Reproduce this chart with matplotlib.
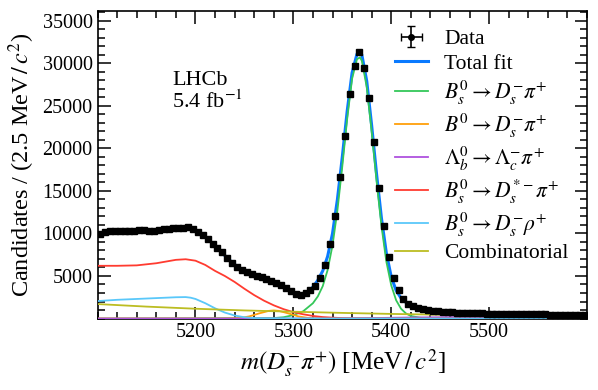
import numpy as np
import matplotlib
matplotlib.use("Agg")
import matplotlib.pyplot as plt
from matplotlib.ticker import MultipleLocator

plt.rcParams['font.family'] = ['Liberation Serif', 'DejaVu Serif']
plt.rcParams['mathtext.fontset'] = 'stix'

# data: 5 MeV bins from 5100 to 5600, candidates per bin
mass_bins = np.arange(5102.5, 5600.0, 5.0)
counts_k = [
    9.95, 10.15, 10.3, 10.35, 10.3, 10.3, 10.25, 10.35, 10.45, 10.4,
    10.3, 10.35, 10.4, 10.55, 10.55, 10.65, 10.7, 10.65, 10.8, 10.5,
    10.2, 9.8, 9.35, 8.8, 8.3, 7.8, 7.15, 6.55, 6.1, 5.75,
    5.45, 5.2, 5.0, 4.85, 4.65, 4.45, 4.2, 3.9, 3.55, 3.2,
    2.9, 2.8, 3.0, 3.35, 3.8, 4.75, 6.3, 8.75, 12.0, 16.6,
    21.45, 26.4, 29.7, 31.3, 29.5, 25.95, 20.75, 15.4, 10.9, 7.2,
    4.75, 3.35, 2.35, 1.75, 1.45, 1.25, 1.1, 1.0, 0.92, 0.86,
    0.8, 0.76, 0.73, 0.7, 0.68, 0.66, 0.63, 0.62, 0.6, 0.58,
    0.58, 0.56, 0.55, 0.55, 0.53, 0.52, 0.52, 0.5, 0.5, 0.5,
    0.48, 0.49, 0.47, 0.46, 0.46, 0.45, 0.44, 0.45, 0.43, 0.43,
]
counts = np.array(counts_k) * 1000

# fit curves (mass, value in thousands)
total_m = [5100, 5110, 5120, 5130, 5140, 5150, 5160, 5170, 5180, 5190, 5195, 5200,
           5205, 5210, 5215, 5220, 5225, 5230, 5235, 5240, 5245, 5250, 5255, 5260,
           5265, 5270, 5275, 5280, 5285, 5290, 5295, 5300, 5305, 5310, 5315, 5320,
           5325, 5330, 5335, 5340, 5345, 5350, 5355, 5360, 5365, 5368, 5370, 5375,
           5380, 5385, 5390, 5395, 5400, 5405, 5410, 5415, 5420, 5430, 5440, 5450,
           5460, 5480, 5500, 5550, 5600]
total_k = [9.9, 10.15, 10.25, 10.3, 10.35, 10.4, 10.45, 10.55, 10.65, 10.72, 10.65, 10.35,
           10.0, 9.6, 9.1, 8.55, 8.0, 7.4, 6.85, 6.35, 5.95, 5.6, 5.3, 5.1,
           4.9, 4.75, 4.55, 4.35, 4.05, 3.75, 3.4, 3.1, 2.9, 2.9, 3.15, 3.7,
           4.5, 5.6, 7.3, 10.0, 14.0, 19.0, 24.4, 28.9, 31.1, 31.4, 31.0, 27.9,
           22.7, 17.0, 11.8, 7.7, 4.9, 3.3, 2.4, 1.9, 1.55, 1.15, 0.95, 0.82,
           0.74, 0.65, 0.58, 0.5, 0.44]

sig_m = [5100, 5280, 5290, 5300, 5310, 5320, 5325, 5330, 5335, 5340, 5345, 5350, 5355,
         5360, 5365, 5368, 5370, 5375, 5380, 5385, 5390, 5395, 5400, 5405, 5410,
         5415, 5420, 5430, 5440, 5460, 5600]
sig_k = [0.0, 0.05, 0.15, 0.4, 0.85, 1.8, 2.6, 3.8, 5.7, 8.6, 12.7, 17.9, 23.5,
         28.2, 30.5, 30.7, 30.3, 27.2, 22.0, 16.2, 10.9, 6.7, 3.9, 2.15, 1.15,
         0.6, 0.3, 0.08, 0.02, 0.0, 0.0]

b0_m = [5100, 5230, 5245, 5255, 5265, 5275, 5280, 5285, 5295, 5305, 5315, 5330, 5350, 5600]
b0_k = [0.0, 0.0, 0.05, 0.25, 0.6, 0.9, 0.95, 0.9, 0.6, 0.25, 0.07, 0.01, 0.0, 0.0]

lb_m = [5100, 5350, 5380, 5420, 5460, 5500, 5550, 5600]
lb_k = [0.0, 0.0, 0.05, 0.12, 0.16, 0.17, 0.16, 0.14]

dstar_m = [5100, 5120, 5140, 5160, 5170, 5180, 5190, 5200, 5210, 5220, 5230, 5240,
           5250, 5260, 5270, 5280, 5290, 5300, 5310, 5320, 5330, 5340, 5350, 5360,
           5380, 5600]
dstar_k = [6.2, 6.2, 6.25, 6.5, 6.7, 6.9, 6.97, 6.8, 6.3, 5.6, 5.0, 4.3,
           3.5, 2.75, 2.1, 1.55, 1.1, 0.75, 0.5, 0.3, 0.17, 0.1, 0.05, 0.03,
           0.01, 0.0]

rho_m = [5100, 5120, 5140, 5160, 5180, 5190, 5195, 5200, 5210, 5220, 5230, 5240,
         5250, 5260, 5270, 5600]
rho_k = [2.05, 2.2, 2.3, 2.4, 2.5, 2.52, 2.45, 2.3, 1.8, 1.2, 0.7, 0.35,
         0.15, 0.05, 0.01, 0.0]

comb_m = [5100, 5150, 5200, 5250, 5300, 5350, 5400, 5450, 5500, 5550, 5600]
comb_k = [1.7, 1.4, 1.15, 0.95, 0.8, 0.66, 0.54, 0.45, 0.37, 0.3, 0.25]

components = [
    (sig_m, sig_k, '#34c759', r'$B_s^0 \to D_s^{-} \pi^{+}$'),
    (b0_m, b0_k, '#ff9f0a', r'$B^0 \to D_s^{-} \pi^{+}$'),
    (lb_m, lb_k, '#af52de', r'$\Lambda_b^0 \to \Lambda_c^{-} \pi^{+}$'),
    (dstar_m, dstar_k, '#ff3b30', r'$B_s^0 \to D_s^{*-} \pi^{+}$'),
    (rho_m, rho_k, '#5ac8fa', r'$B_s^0 \to D_s^{-} \rho^{+}$'),
    (comb_m, comb_k, '#bcbd22', 'Combinatorial'),
]

fig = plt.figure(figsize=(5.98, 3.90), dpi=100)
ax = fig.add_axes([0.1632, 0.1833, 0.8184, 0.7893])

ax.plot(total_m, np.array(total_k) * 1000, color='#0a7aff', lw=2.2, label='Total fit', zorder=2)
for m, v, c, lab in components:
    ax.plot(m, np.array(v) * 1000, color=c, lw=1.3, label=lab, zorder=3)

ax.errorbar(mass_bins, counts, yerr=np.sqrt(counts), xerr=2.5, fmt='s', ms=4.2,
            color='black', elinewidth=1, capsize=0, zorder=5)
data_handle = ax.errorbar([np.nan], [np.nan], xerr=1, yerr=1, fmt='o', ms=4,
                          color='black', elinewidth=1.2, capsize=3, label='Data')

handles, labels = ax.get_legend_handles_labels()
order = [labels.index('Data')] + [i for i, l in enumerate(labels) if l != 'Data']
ax.legend([handles[i] for i in order], [labels[i] for i in order],
          loc='upper right', bbox_to_anchor=(1.0, 1.0), frameon=False, fontsize=15.5,
          handlelength=1.55, handletextpad=0.75, labelspacing=0.22, borderaxespad=0.45)

ax.text(0.152, 0.772, 'LHCb', transform=ax.transAxes, fontsize=16, va='center')
ax.text(0.152, 0.705, r'5.4 fb$^{-1}$', transform=ax.transAxes, fontsize=16, va='center')

ax.set_xlim(5100, 5600)
ax.set_ylim(0, 36200)
ax.set_xticks([5200, 5300, 5400, 5500])
ax.set_yticks(range(5000, 35001, 5000))
ax.xaxis.set_minor_locator(MultipleLocator(20))
ax.yaxis.set_minor_locator(MultipleLocator(1000))
ax.tick_params(which='both', direction='in', top=True, right=True, labelsize=14.5, width=1.1)
ax.tick_params(which='major', length=9)
ax.tick_params(which='minor', length=5)
for s in ax.spines.values():
    s.set_linewidth(1.2)

ax.set_xlabel(r'$m(D_s^{-}\pi^{+})$ [MeV$\,/\,c^{2}$]', fontsize=18)
ax.set_ylabel(r'Candidates / (2.5 MeV$\,/\,c^{2}$)', fontsize=17.5)

fig.savefig('out.png', dpi=100)
